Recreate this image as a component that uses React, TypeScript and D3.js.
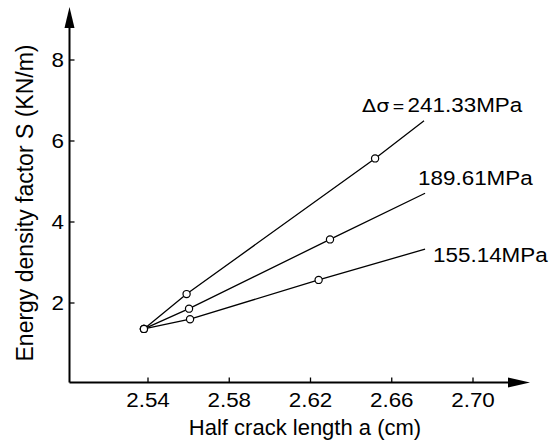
import React from 'react';
import * as d3 from 'd3';

// values
const stressLabels = ['241.33MPa', '189.61MPa', '155.14MPa'];
const crackA241 = [2.538, 2.559, 2.6518, 2.6759];
const energyS241 = [1.36, 2.22, 5.57, 6.5];
const crackA189 = [2.538, 2.5602, 2.6296, 2.6764];
const energyS189 = [1.36, 1.86, 3.57, 4.71];
const crackA155 = [2.538, 2.5607, 2.624, 2.6764];
const energyS155 = [1.36, 1.6, 2.57, 3.33];
// the last point of each line is its end, with no marker
const markerCount = 3;

const xTicks = [2.54, 2.58, 2.62, 2.66, 2.7];
const yTicks = [2, 4, 6, 8];

const W = 550;
const H = 445;
const axisX = 69.5;
const axisY = 382.5;
const font = '"Liberation Sans", Arial, sans-serif';
const stretch = 'scale(1.15,1)';

const x = d3.scaleLinear().domain([2.54, 2.7]).range([148, 473]);
const y = d3.scaleLinear().domain([2, 8]).range([303, 60]);

const series = [
  { label: stressLabels[0], a: crackA241, s: energyS241, dx: -62, dy: -9, delta: true },
  { label: stressLabels[1], a: crackA189, s: energyS189, dx: -7, dy: -8, delta: false },
  { label: stressLabels[2], a: crackA155, s: energyS155, dx: 8, dy: 13, delta: false },
];

const line = d3
  .line<[number, number]>()
  .x((d) => x(d[0]))
  .y((d) => y(d[1]));

export default function App() {
  return (
    <svg
      width={W}
      height={H}
      style={{ position: 'absolute', left: 0, top: 0, background: '#fff' }}
      fontFamily={font}
    >
      <rect width={W} height={H} fill="#fff" />

      {/* axes with arrow heads */}
      <g stroke="#000" strokeWidth={2} fill="none">
        <line x1={axisX} y1={axisY} x2={axisX} y2={24} />
        <line x1={axisX} y1={axisY} x2={512} y2={axisY} />
      </g>
      <path d={`M${axisX},7 L${axisX - 5},28 L${axisX + 5},28 Z`} fill="#000" />
      <path d={`M530,${axisY} L508,${axisY - 5} L508,${axisY + 5} Z`} fill="#000" />

      {/* x ticks */}
      {xTicks.map((t) => (
        <g key={t}>
          <line x1={x(t)} x2={x(t)} y1={axisY} y2={axisY - 5} stroke="#000" strokeWidth={1.3} />
          <text
            transform={`translate(${x(t)},407) ${stretch}`}
            textAnchor="middle"
            fontSize={19.5}
          >
            {d3.format('.2f')(t)}
          </text>
        </g>
      ))}

      {/* y ticks */}
      {yTicks.map((t) => (
        <g key={t}>
          <line x1={axisX} x2={axisX + 5} y1={y(t)} y2={y(t)} stroke="#000" strokeWidth={1.3} />
          <text
            transform={`translate(64,${y(t) + 7}) ${stretch}`}
            textAnchor="end"
            fontSize={19.5}
          >
            {t}
          </text>
        </g>
      ))}

      {/* axis titles */}
      <text x={305} y={435} textAnchor="middle" fontSize={22}>
        Half crack length a (cm)
      </text>
      <text transform="translate(33,203) rotate(-90)" textAnchor="middle" fontSize={23}>
        Energy density factor S (KN/m)
      </text>

      {/* lines, markers and labels */}
      {series.map((sr) => {
        const pts = sr.a.map((a, i) => [a, sr.s[i]] as [number, number]);
        const end = pts[pts.length - 1];
        return (
          <g key={sr.label}>
            <path d={line(pts) ?? ''} fill="none" stroke="#000" strokeWidth={1.3} />
            {pts.slice(0, markerCount).map((p, i) => (
              <circle
                key={i}
                cx={x(p[0])}
                cy={y(p[1])}
                r={3.6}
                fill="#fff"
                stroke="#000"
                strokeWidth={1.2}
              />
            ))}
            <text transform={`translate(${x(end[0]) + sr.dx},${y(end[1]) + sr.dy}) ${stretch}`}>
              {sr.delta && (
                <>
                  <tspan fontSize={18} fontFamily='"DejaVu Sans", sans-serif'>
                    Δσ
                  </tspan>
                  <tspan fontSize={17} dx={3}>
                    =
                  </tspan>
                </>
              )}
              <tspan fontSize={19.5} dx={sr.delta ? 3 : 0}>
                {sr.label}
              </tspan>
            </text>
          </g>
        );
      })}
    </svg>
  );
}
